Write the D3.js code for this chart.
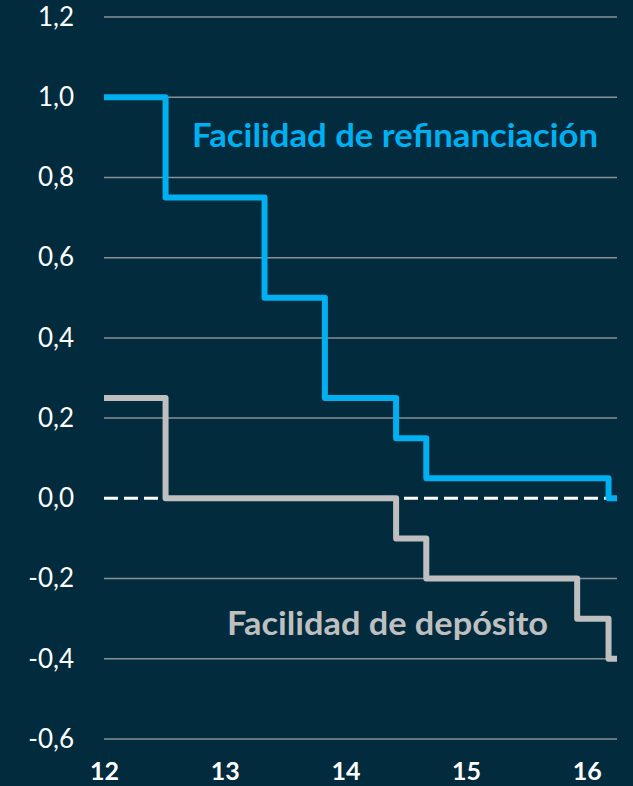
<!DOCTYPE html>
<html><head><meta charset="utf-8">
<script src="https://cdn.jsdelivr.net/npm/d3@7"></script>
<style>html,body{margin:0;padding:0;background:#022c3e;}svg{display:block;}</style>
</head><body>
<script>
// Data: dates as decimal years (2-digit), ECB rates (%)
const refiDates = [12.0, 12.51, 13.33, 13.83, 14.42, 14.67, 16.18, 16.25];
const refiValues = [1.0, 0.75, 0.5, 0.25, 0.15, 0.05, 0.0, 0.0];
const depoDates = [12.0, 12.51, 14.42, 14.67, 15.92, 16.18, 16.25];
const depoValues = [0.25, 0.0, -0.1, -0.2, -0.3, -0.4, -0.4];
const yTicks = [-0.6, -0.4, -0.2, 0.0, 0.2, 0.4, 0.6, 0.8, 1.0, 1.2];
const xTicks = [12, 13, 14, 15, 16];
const seriesNames = ["Facilidad de refinanciación", "Facilidad de depósito"];

const W = 633, H = 786;
const svg = d3.select("body").append("svg").attr("width", W).attr("height", H);
svg.append("rect").attr("width", W).attr("height", H).attr("fill", "#022c3e");

const x = d3.scaleLinear().domain([12, 16.25]).range([104, 617]);
const y = d3.scaleLinear().domain([-0.6, 1.2]).range([739, 17]);
const font = "Lato, 'Open Sans', sans-serif";

// gridlines
svg.append("g").selectAll("line").data(yTicks.filter(d => Math.abs(d) > 1e-9)).join("line")
  .attr("x1", x(12)).attr("x2", x(16.25))
  .attr("y1", d => y(d)).attr("y2", d => y(d))
  .attr("stroke", "#8a8f93").attr("stroke-width", 1.5);

// y axis labels
const yAxis = d3.axisLeft(y).tickValues(yTicks).tickSize(0).tickPadding(0)
  .tickFormat(d => d3.format(".1f")(d).replace(".", ",").replace("−", "-"));
const gy = svg.append("g").attr("transform", "translate(74,0)").call(yAxis);
gy.select(".domain").remove();
gy.selectAll("text").attr("fill", "#ffffff").attr("font-size", 26).attr("font-family", font);

// x axis labels
const xAxis = d3.axisBottom(x).tickValues(xTicks).tickSize(0).tickPadding(0).tickFormat(d => d);
const gx = svg.append("g").attr("transform", "translate(0,762)").call(xAxis);
gx.select(".domain").remove();
gx.selectAll("text").attr("fill", "#ffffff").attr("font-size", 25).attr("font-weight", "bold").attr("font-family", font);

// zero dashed line
svg.append("line").attr("x1", x(12)).attr("x2", x(16.25)).attr("y1", y(0)).attr("y2", y(0))
  .attr("stroke", "#ffffff").attr("stroke-width", 3).attr("stroke-dasharray", "14,6");

const line = d3.line().x(d => x(d[0])).y(d => y(d[1])).curve(d3.curveStepAfter);

svg.append("path").datum(depoDates.map((d, i) => [d, depoValues[i]]))
  .attr("d", line).attr("fill", "none").attr("stroke", "#bfbfbf").attr("stroke-width", 6)
  .attr("stroke-linejoin", "round");
svg.append("path").datum(refiDates.map((d, i) => [d, refiValues[i]]))
  .attr("d", line).attr("fill", "none").attr("stroke", "#00b0f0").attr("stroke-width", 6)
  .attr("stroke-linejoin", "round");

svg.append("text").attr("x", 192).attr("y", 147).text(seriesNames[0])
  .attr("fill", "#00b0f0").attr("font-size", 33).attr("font-weight", "bold").attr("font-family", font)
  .attr("textLength", 406).attr("lengthAdjust", "spacingAndGlyphs");
svg.append("text").attr("x", 227).attr("y", 635).text(seriesNames[1])
  .attr("fill", "#bfbfbf").attr("font-size", 33).attr("font-weight", "bold").attr("font-family", font)
  .attr("textLength", 321).attr("lengthAdjust", "spacingAndGlyphs");
</script>
</body></html>
